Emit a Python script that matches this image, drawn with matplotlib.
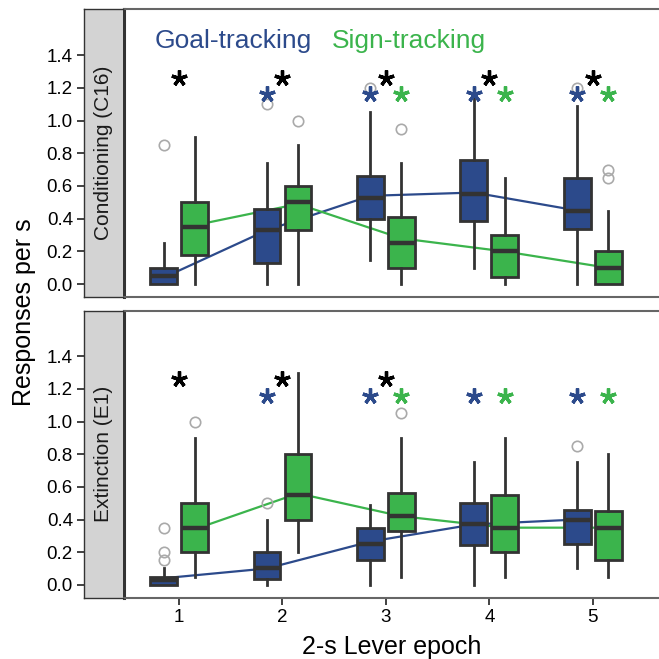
import numpy as np
import matplotlib
matplotlib.use('Agg')
import matplotlib.pyplot as plt

plt.rcParams['font.family'] = ['Liberation Sans', 'DejaVu Sans']

# cores
azul = '#2C4A8B'
verde = '#3BB44C'
contorno = '#333333'

epocas = [1, 2, 3, 4, 5]
paineis = ['Conditioning (C16)', 'Extinction (E1)']

# Conditioning (C16) - goal-tracking
gt_c_q1 = [0.0, 0.13, 0.40, 0.385, 0.335]
gt_c_med = [0.05, 0.33, 0.525, 0.55, 0.45]
gt_c_q3 = [0.10, 0.46, 0.66, 0.76, 0.65]
gt_c_lo = [0.0, 0.0, 0.15, 0.10, 0.0]
gt_c_hi = [0.25, 0.74, 1.05, 1.20, 1.09]
gt_c_out = [[0.85], [1.10], [1.20], [], [1.20]]
gt_c_media = [0.04, 0.33, 0.54, 0.56, 0.45]

# Conditioning (C16) - sign-tracking
st_c_q1 = [0.18, 0.33, 0.10, 0.045, 0.0]
st_c_med = [0.35, 0.50, 0.25, 0.20, 0.10]
st_c_q3 = [0.50, 0.60, 0.41, 0.30, 0.20]
st_c_lo = [0.0, 0.0, 0.0, 0.0, 0.0]
st_c_hi = [0.90, 0.85, 0.74, 0.65, 0.45]
st_c_out = [[], [1.0], [0.95], [], [0.65, 0.70]]
st_c_media = [0.36, 0.49, 0.28, 0.20, 0.10]

# Extinction (E1) - goal-tracking
gt_e_q1 = [0.0, 0.035, 0.15, 0.245, 0.25]
gt_e_med = [0.03, 0.10, 0.25, 0.37, 0.40]
gt_e_q3 = [0.05, 0.20, 0.35, 0.50, 0.46]
gt_e_lo = [0.0, 0.0, 0.0, 0.0, 0.10]
gt_e_hi = [0.10, 0.40, 0.49, 0.75, 0.75]
gt_e_out = [[0.15, 0.20, 0.35], [0.50], [], [], [0.85]]
gt_e_media = [0.04, 0.10, 0.265, 0.37, 0.40]

# Extinction (E1) - sign-tracking
st_e_q1 = [0.20, 0.40, 0.33, 0.20, 0.15]
st_e_med = [0.35, 0.55, 0.42, 0.35, 0.35]
st_e_q3 = [0.50, 0.80, 0.56, 0.55, 0.45]
st_e_lo = [0.05, 0.20, 0.05, 0.05, 0.05]
st_e_hi = [0.90, 1.30, 0.90, 0.90, 0.80]
st_e_out = [[1.0], [], [1.05], [], []]
st_e_media = [0.34, 0.56, 0.42, 0.35, 0.35]

# asteriscos de significancia (1 = sim)
sig_grupo_c = [1, 1, 1, 1, 1]
sig_gt_c = [0, 1, 1, 1, 1]
sig_st_c = [0, 0, 1, 1, 1]
sig_grupo_e = [1, 1, 1, 0, 0]
sig_gt_e = [0, 1, 1, 1, 1]
sig_st_e = [0, 0, 1, 1, 1]

y_ast_preto = 1.26
y_ast_cor = 1.16

dados = [
    (gt_c_q1, gt_c_med, gt_c_q3, gt_c_lo, gt_c_hi, gt_c_out, gt_c_media,
     st_c_q1, st_c_med, st_c_q3, st_c_lo, st_c_hi, st_c_out, st_c_media,
     sig_grupo_c, sig_gt_c, sig_st_c),
    (gt_e_q1, gt_e_med, gt_e_q3, gt_e_lo, gt_e_hi, gt_e_out, gt_e_media,
     st_e_q1, st_e_med, st_e_q3, st_e_lo, st_e_hi, st_e_out, st_e_media,
     sig_grupo_e, sig_gt_e, sig_st_e),
]


def estatisticas(q1, med, q3, lo, hi, out):
    return [dict(q1=a, med=b, q3=c, whislo=d, whishi=e, fliers=f)
            for a, b, c, d, e, f in zip(q1, med, q3, lo, hi, out)]


def desenhar_caixas(ax, stats, pos, cor):
    ax.bxp(stats, positions=pos, widths=0.26, patch_artist=True, showcaps=False,
           boxprops=dict(facecolor=cor, edgecolor=contorno, linewidth=2.0),
           medianprops=dict(color=contorno, linewidth=3.2),
           whiskerprops=dict(color=contorno, linewidth=2.0),
           flierprops=dict(marker='o', markerfacecolor='none', markeredgecolor='#AAAAAA',
                           markersize=7.5, markeredgewidth=1.2),
           zorder=3)


fig = plt.figure(figsize=(6.59, 6.59), dpi=100)
W = H = 659.0
dodge = 0.15
x = np.array(epocas)
yticks = [0.0, 0.2, 0.4, 0.6, 0.8, 1.0, 1.2, 1.4]

limites = [(9.5, 297.0), (311.0, 597.5)]
for k, (topo, base) in enumerate(limites):
    (gq1, gmed, gq3, glo, ghi, gout, gmedia,
     sq1, smed, sq3, slo, shi, sout, smedia, sg, sgt, sst) = dados[k]

    ax = fig.add_axes([124 / W, 1 - base / H, 535 / W, (base - topo) / H])
    tira = fig.add_axes([84 / W, 1 - base / H, 39 / W, (base - topo) / H], sharey=ax)

    ax.plot(x - dodge, gmedia, color=azul, linewidth=1.6, zorder=2)
    ax.plot(x + dodge, smedia, color=verde, linewidth=1.6, zorder=2)
    desenhar_caixas(ax, estatisticas(gq1, gmed, gq3, glo, ghi, gout), x - dodge, azul)
    desenhar_caixas(ax, estatisticas(sq1, smed, sq3, slo, shi, sout), x + dodge, verde)

    est = dict(marker=(5, 2, 0), markersize=11.5, markeredgewidth=2.4, linestyle='none', zorder=4)
    xs = [e for e, s in zip(epocas, sg) if s]
    ax.plot(xs, [y_ast_preto] * len(xs), color='black', markeredgecolor='black', **est)
    xs = [e - dodge for e, s in zip(epocas, sgt) if s]
    ax.plot(xs, [y_ast_cor] * len(xs), color=azul, markeredgecolor=azul, **est)
    xs = [e + dodge for e, s in zip(epocas, sst) if s]
    ax.plot(xs, [y_ast_cor] * len(xs), color=verde, markeredgecolor=verde, **est)

    ax.set_xlim(0.468, 5.64)
    ax.set_ylim(-0.078, 1.678)
    ax.set_yticks(yticks)
    ax.tick_params(axis='y', left=False, labelleft=False)
    ax.spines['right'].set_visible(False)
    ax.spines['top'].set_color('#666666')
    ax.spines['top'].set_linewidth(1.5)
    ax.spines['bottom'].set_color('#666666')
    ax.spines['bottom'].set_linewidth(1.5)
    ax.spines['left'].set_color(contorno)
    ax.spines['left'].set_linewidth(2.2)

    if k == 0:
        ax.tick_params(axis='x', bottom=False, labelbottom=False)
        ax.text(0.058, 0.866, 'Goal-tracking', color=azul, fontsize=19,
                transform=ax.transAxes, va='baseline')
        ax.text(0.388, 0.866, 'Sign-tracking', color=verde, fontsize=19,
                transform=ax.transAxes, va='baseline')
    else:
        ax.set_xticks(epocas)
        ax.set_xticklabels([str(e) for e in epocas])
        ax.tick_params(axis='x', length=5, width=1.3, color=contorno,
                       labelsize=13.5, pad=3)

    tira.set_facecolor('#D3D3D3')
    for lado in ['top', 'bottom', 'left']:
        tira.spines[lado].set_color(contorno)
        tira.spines[lado].set_linewidth(1.0)
    tira.spines['right'].set_visible(False)
    tira.set_xticks([])
    tira.tick_params(axis='y', length=5, width=1.3, color=contorno, labelsize=13.5, pad=3)
    tira.set_yticks(yticks)
    tira.set_yticklabels(['%.1f' % v for v in yticks])
    plt.setp(tira.get_yticklabels(), visible=True)
    tira.text(0.5, 0.5, paineis[k], rotation=90, ha='center', va='center',
              fontsize=15, color='#1A1A1A', transform=tira.transAxes)

fig.text(0.5 * (124 + 659) / W, 1 - 647 / H, '2-s Lever epoch', ha='center', va='center', fontsize=18)
fig.text(24 / W, 1 - 312 / H, 'Responses per s', ha='center', va='center', rotation=90, fontsize=18)

fig.savefig('out.png', dpi=100)
